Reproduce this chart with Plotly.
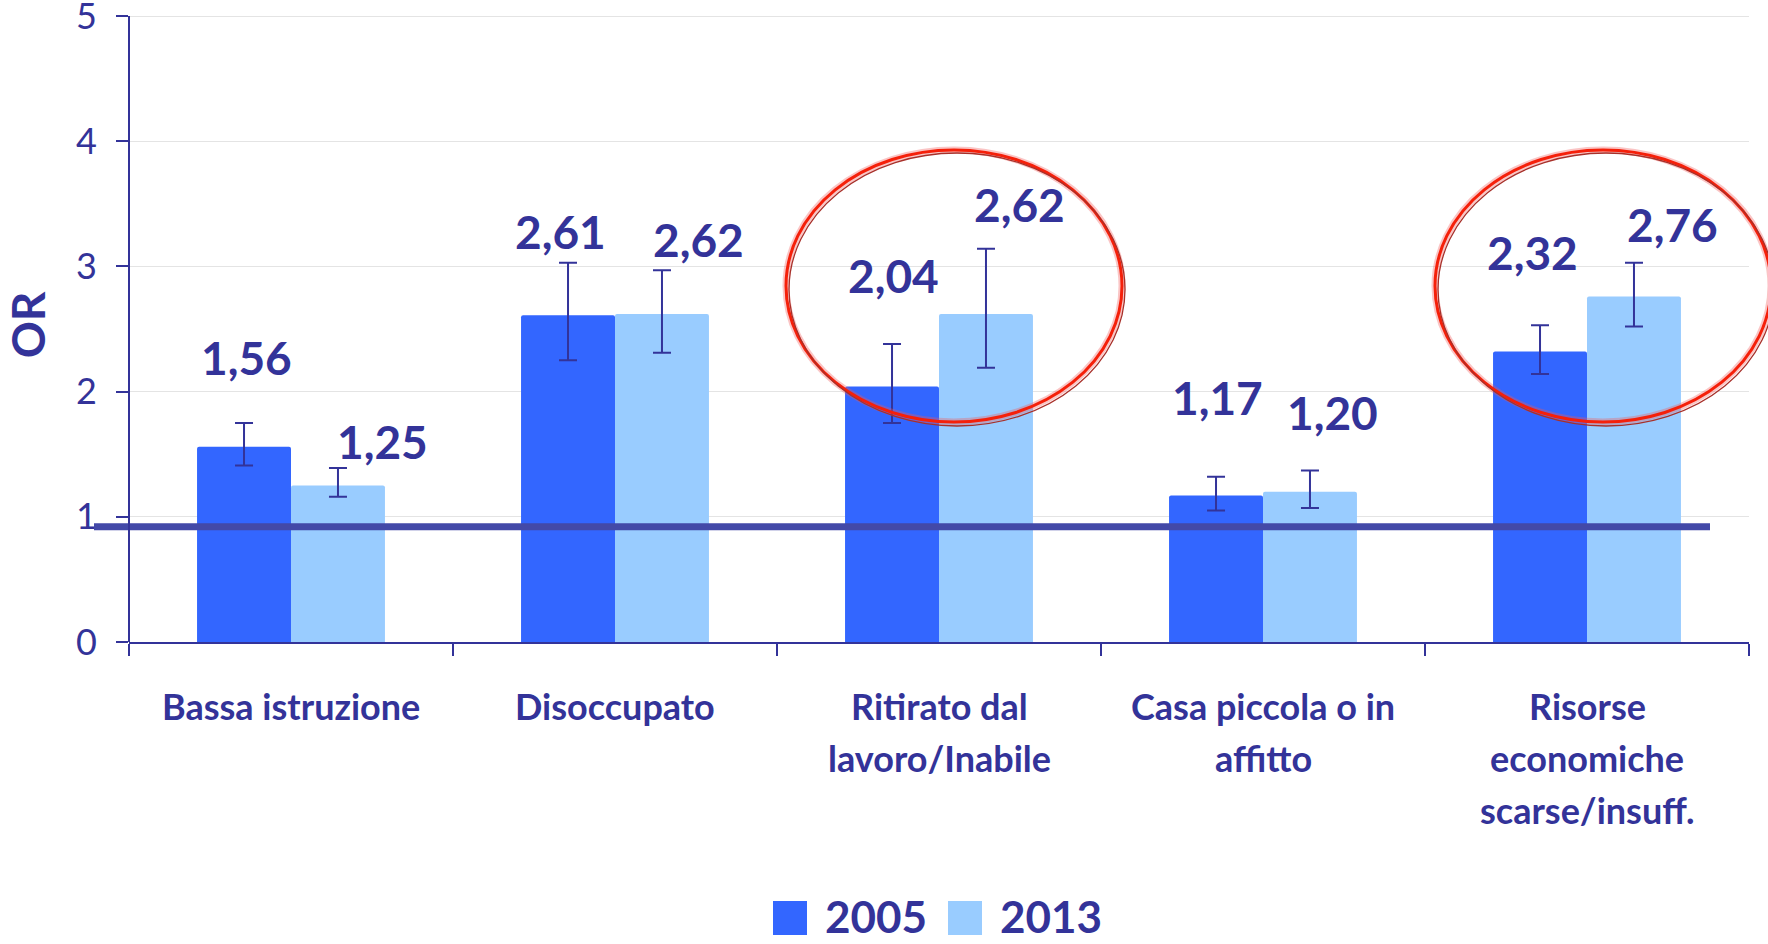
import plotly.graph_objects as go

# --- data -------------------------------------------------------------
categories = ["Bassa istruzione", "Disoccupato", "Ritirato dal lavoro/Inabile",
              "Casa piccola o in affitto", "Risorse economiche scarse/insuff."]
category_lines = [["Bassa istruzione"], ["Disoccupato"], ["Ritirato dal", "lavoro/Inabile"],
                  ["Casa piccola o in", "affitto"], ["Risorse", "economiche", "scarse/insuff."]]
years = ["2005", "2013"]
or_2005 = [1.56, 2.61, 2.04, 1.17, 2.32]
or_2013 = [1.25, 2.62, 2.62, 1.20, 2.76]
ci_low_2005 = [1.41, 2.25, 1.75, 1.05, 2.14]
ci_high_2005 = [1.75, 3.03, 2.38, 1.32, 2.53]
ci_low_2013 = [1.16, 2.31, 2.19, 1.07, 2.52]
ci_high_2013 = [1.39, 2.97, 3.14, 1.37, 3.03]
reference_level = 0.92
y_ticks = [0, 1, 2, 3, 4, 5]

# --- styling ----------------------------------------------------------
NAVY = "#333399"
C2005 = "#3366FF"
C2013 = "#99CCFF"
FONT = "Lato"

# plot area in pixels (for paper-coordinate helpers)
L, R, T, B = 129, 19, 8, 302
W, H = 1768, 944
PW, PH = W - L - R, H - T - B
Y_TOP_PX = 16          # pixel row of the y = 5 gridline
Y_MAX = 5 * PH / (H - B - Y_TOP_PX)


def px_x(x):
    return (x - L) / PW


def px_y(y):
    return (H - B - y) / PH


fig = go.Figure()

series = [
    (years[0], or_2005, ci_low_2005, ci_high_2005, C2005),
    (years[1], or_2013, ci_low_2013, ci_high_2013, C2013),
]
for name, vals, lo, hi, col in series:
    fig.add_trace(go.Bar(
        name=name, x=categories, y=vals,
        marker=dict(color=col, line=dict(width=0), cornerradius=2),
        error_y=dict(type="data", symmetric=False,
                     array=[h - v for h, v in zip(hi, vals)],
                     arrayminus=[v - l for v, l in zip(vals, lo)],
                     color=NAVY, thickness=2, width=9),
        showlegend=False,
    ))

# value labels placed above each confidence interval (pixel nudges per label)
label_shift_2005 = [(2, 65), (-8, 31), (1, 69), (1, 79), (-8, 73)]
label_shift_2013 = [(45, 26), (37, 31), (34, 44), (23, 58), (39, 38)]
for vals, hi, shifts, offs in [(or_2005, ci_high_2005, label_shift_2005, -0.5),
                               (or_2013, ci_high_2013, label_shift_2013, 0.5)]:
    for i, (v, h, (dx, dy)) in enumerate(zip(vals, hi, shifts)):
        fig.add_annotation(
            x=i + offs * 0.29, y=h, xref="x", yref="y",
            text=f"{v:.2f}".replace(".", ","), showarrow=False,
            xshift=dx, yshift=dy, yanchor="middle",
            font=dict(family=FONT, size=46, color=NAVY, weight="bold"),
        )

# category names under the axis
for i, lines in enumerate(category_lines):
    for j, line in enumerate(lines):
        fig.add_annotation(
            x=i, y=px_y(706 + 52 * j), xref="x", yref="paper",
            text=line, showarrow=False, yanchor="middle",
            font=dict(family=FONT, size=36, color=NAVY, weight="bold"),
        )

# thick reference line
fig.add_shape(type="line", xref="paper", yref="y",
              x0=px_x(94), x1=px_x(1710), y0=reference_level, y1=reference_level,
              line=dict(color="#4349A8", width=7), layer="above")

# hand-drawn style highlight ovals
for (x0, y0, x1, y1) in [(786, 150, 1122, 422), (1435, 150, 1771, 422)]:
    fig.add_shape(type="circle", xref="paper", yref="paper",
                  x0=px_x(x0), x1=px_x(x1), y0=px_y(y0), y1=px_y(y1),
                  line=dict(color="rgba(240,90,90,0.35)", width=7), layer="above")
    fig.add_shape(type="circle", xref="paper", yref="paper",
                  x0=px_x(x0), x1=px_x(x1), y0=px_y(y0), y1=px_y(y1),
                  line=dict(color="#F5200A", width=3), layer="above")
    fig.add_shape(type="circle", xref="paper", yref="paper",
                  x0=px_x(x0 + 3), x1=px_x(x1 + 3), y0=px_y(y0 + 3), y1=px_y(y1 + 4),
                  line=dict(color="#A8302A", width=1.3), layer="above")

# legend drawn with large square swatches
for (sx0, sx1, tx, col, name) in [(773, 807, 823, C2005, years[0]),
                                  (948, 982, 998, C2013, years[1])]:
    fig.add_shape(type="rect", xref="paper", yref="paper",
                  x0=px_x(sx0), x1=px_x(sx1), y0=px_y(901), y1=px_y(935),
                  fillcolor=col, line=dict(width=0))
    fig.add_annotation(x=px_x(tx), y=px_y(916), xref="paper", yref="paper",
                       text=name, showarrow=False, xanchor="left", yanchor="middle",
                       font=dict(family=FONT, size=44, color=NAVY, weight="bold"))

fig.update_layout(
    width=W, height=H,
    margin=dict(l=L, r=R, t=T, b=B, autoexpand=False),
    paper_bgcolor="white", plot_bgcolor="white",
    barmode="group", bargap=0.42, bargroupgap=0,
    font=dict(family=FONT, color=NAVY),
    showlegend=False,
)
fig.update_xaxes(
    type="category", categoryorder="array", categoryarray=categories,
    showticklabels=False, tickson="boundaries", ticks="outside",
    ticklen=12, tickwidth=2, tickcolor=NAVY,
    showline=True, linecolor=NAVY, linewidth=2, showgrid=False,
    range=[-0.5, 4.5],
)
fig.update_yaxes(
    range=[0, Y_MAX], tickvals=y_ticks, ticks="outside", ticklen=12, tickwidth=2,
    tickcolor=NAVY, showline=False, showgrid=True, gridcolor="#E4E4E4", gridwidth=1,
    zeroline=False, ticklabeloverflow="allow",
    tickfont=dict(family=FONT, size=36, color=NAVY), ticklabelstandoff=12,
    title=dict(text="OR", standoff=33,
               font=dict(family=FONT, size=46, color=NAVY, weight="bold")),
)

# y axis line runs from 0 up to the top tick only
fig.add_shape(type="line", xref="paper", yref="y", x0=0, x1=0, y0=0, y1=y_ticks[-1],
              line=dict(color=NAVY, width=2), layer="above")

fig.write_html("out.html")
